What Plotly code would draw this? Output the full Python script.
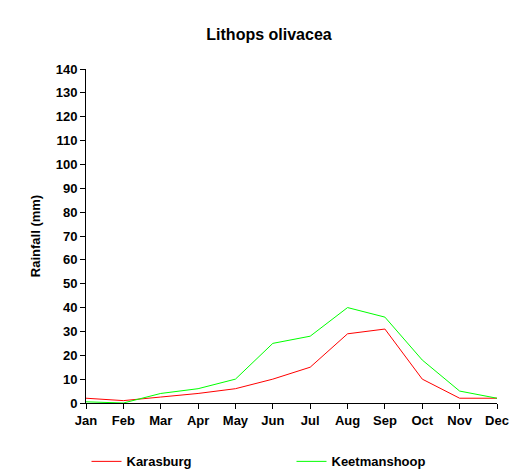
import plotly.graph_objects as go

months = ["Jan","Feb","Mar","Apr","May","Jun","Jul","Aug","Sep","Oct","Nov","Dec"]
karasburg = [2, 1, 2.5, 4, 6, 10, 15, 29, 31, 10, 2, 2]
keetmanshoop = [0.5, 0, 4, 6, 10, 25, 28, 40, 36, 18, 5, 2]
yticks = list(range(0, 141, 10))

fig = go.Figure()
fig.add_trace(go.Scatter(x=months, y=karasburg, mode="lines", name="<b>Karasburg</b>",
                         line=dict(color="#ff0000", width=1)))
fig.add_trace(go.Scatter(x=months, y=keetmanshoop, mode="lines", name="<b>Keetmanshoop</b>",
                         line=dict(color="#00ff00", width=1)))
font = dict(family="Liberation Sans, Arial", size=13, color="black")
fig.update_layout(
    width=522, height=469, plot_bgcolor="white", paper_bgcolor="white",
    margin=dict(l=78, r=33, t=61, b=74, autoexpand=False),
    title=dict(text="<b>Lithops olivacea</b>", x=0.5, xanchor="center", y=0.955,
               font=dict(family="Liberation Sans, Arial", size=16, color="black")),
    font=font,
    xaxis=dict(showgrid=False, showline=True, linecolor="black", ticks="outside",
               ticklen=5, tickcolor="black", range=[0, 11], automargin=False,
               tickvals=months, ticktext=[f"<b>{m}</b>" for m in months]),
    yaxis=dict(showgrid=False, showline=True, linecolor="black", ticks="outside",
               ticklen=5, tickcolor="black", range=[0, 140], automargin=False,
               tickvals=yticks, ticktext=[f"<b>{v}</b>" for v in yticks],
               title=dict(text="<b>Rainfall (mm)</b>", standoff=12,
                          font=dict(size=13))),
    legend=dict(orientation="h", x=0.5, xanchor="center", y=-0.13, yanchor="top",
                font=dict(size=13), entrywidthmode="pixels", entrywidth=160),
    showlegend=True,
)
fig.update_xaxes(type="category")
fig.write_html("out.html")
